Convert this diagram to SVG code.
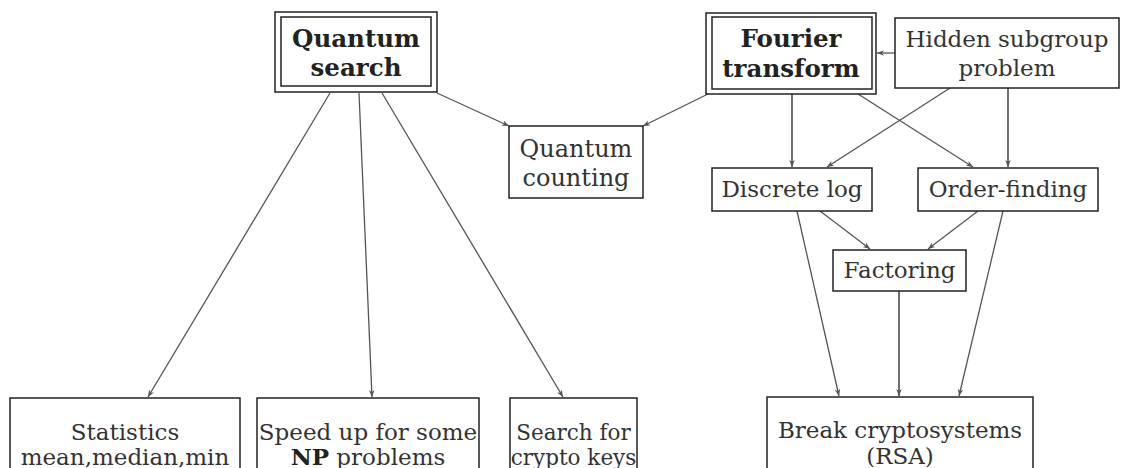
<svg xmlns="http://www.w3.org/2000/svg" width="1130" height="468" viewBox="0 0 1130 468">
<style>
.box{fill:#fff;stroke:#222;stroke-width:1.5}
.t{font-family:"DejaVu Serif","Liberation Serif",serif;font-size:23px;fill:#333;text-anchor:middle}
.b{font-weight:bold;fill:#222;font-size:24.5px}
.c line{stroke:#555;stroke-width:1.3;marker-end:url(#ah)}
.c line.k{stroke:#222}
</style>
<defs>
<marker id="ah" viewBox="0 0 10 10" refX="10" refY="5" markerWidth="7" markerHeight="7" orient="auto" markerUnits="userSpaceOnUse">
<path d="M0,1 L10,5 L0,9 L3,5 Z" fill="#555"/>
</marker>
</defs>
<rect width="1130" height="468" fill="#fff"/>
<g id="connectors" class="c">
<line x1="330" y1="93" x2="148" y2="397"/>
<line x1="359" y1="93" x2="372" y2="397"/>
<line x1="382" y1="93" x2="563" y2="397"/>
<line x1="437" y1="93" x2="509" y2="126"/>
<line x1="708" y1="94" x2="643" y2="126"/>
<line class="k" x1="792" y1="94" x2="792" y2="167"/>
<line x1="858" y1="94" x2="973" y2="167"/>
<line x1="950" y1="88" x2="827" y2="167"/>
<line class="k" x1="1008" y1="88" x2="1008" y2="167"/>
<line x1="895" y1="53" x2="877" y2="53"/>
<line x1="820" y1="211" x2="870" y2="249"/>
<line x1="978" y1="211" x2="928" y2="249"/>
<line x1="797" y1="211" x2="839" y2="396"/>
<line x1="1003" y1="211" x2="959" y2="396"/>
<line class="k" x1="899" y1="291" x2="899" y2="396"/>
</g>
<g id="quantum-search">
<rect class="box" x="275" y="12" width="162" height="80"/>
<rect class="box" x="281" y="17" width="150" height="69"/>
<text class="t b" x="356" y="47">Quantum</text>
<text class="t b" x="356" y="76">search</text>
</g>
<g id="fourier-transform">
<rect class="box" x="706" y="13" width="170" height="81"/>
<rect class="box" x="712" y="17" width="160" height="72"/>
<text class="t b" x="791" y="47">Fourier</text>
<text class="t b" x="791" y="77">transform</text>
</g>
<g id="hidden-subgroup">
<rect class="box" x="895" y="18" width="224" height="70"/>
<text class="t" x="1007" y="47">Hidden subgroup</text>
<text class="t" x="1007" y="76">problem</text>
</g>
<g id="quantum-counting">
<rect class="box" x="509" y="126" width="134" height="72"/>
<text class="t" x="576" y="157" style="font-size:24px">Quantum</text>
<text class="t" x="576" y="186" style="font-size:24px">counting</text>
</g>
<g id="discrete-log">
<rect class="box" x="712" y="168" width="160" height="43"/>
<text class="t" x="792" y="197">Discrete log</text>
</g>
<g id="order-finding">
<rect class="box" x="918" y="168" width="180" height="43"/>
<text class="t" x="1008" y="197">Order-finding</text>
</g>
<g id="factoring">
<rect class="box" x="833" y="250" width="133" height="41"/>
<text class="t" x="899.5" y="278">Factoring</text>
</g>
<g id="statistics">
<rect class="box" x="10" y="398" width="230" height="75"/>
<text class="t" x="125" y="440">Statistics</text>
<text class="t" x="125" y="465">mean,median,min</text>
</g>
<g id="speed-up">
<rect class="box" x="257" y="398" width="222" height="75"/>
<text class="t" x="368" y="440">Speed up for some</text>
<text class="t" x="368" y="465"><tspan class="b" style="font-size:23px">NP</tspan> problems</text>
</g>
<g id="search-keys">
<rect class="box" x="510" y="398" width="127" height="75"/>
<text class="t" x="573.5" y="440" style="font-size:21.5px">Search for</text>
<text class="t" x="573.5" y="465" style="font-size:21.5px">crypto keys</text>
</g>
<g id="break-crypto">
<rect class="box" x="767" y="397" width="266" height="76"/>
<text class="t" x="900" y="438">Break cryptosystems</text>
<text class="t" x="900" y="464">(RSA)</text>
</g>
</svg>
